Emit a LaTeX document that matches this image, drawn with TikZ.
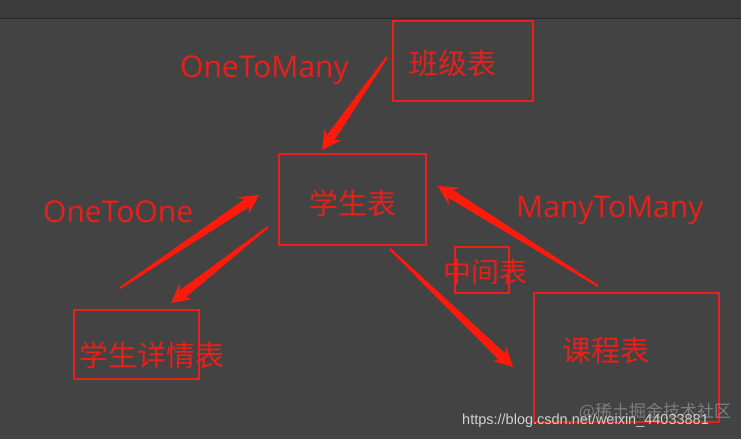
\documentclass[tikz,border=0pt]{standalone}
\usepackage{fontspec}
\setmainfont{Open Sans}
\newfontfamily\cjk{Noto Sans CJK SC}
\newfontfamily\wmfont{Liberation Sans}
\usetikzlibrary{calc}
\definecolor{bg}{HTML}{434343}
\definecolor{topbar}{HTML}{3B3B3B}
\definecolor{pen}{HTML}{E8201A}
\definecolor{ink}{HTML}{FF1A0C}
\tikzset{
	tbl/.style={draw=pen, line width=2pt, inner sep=0pt},
	cn/.style={text=pen, font=\cjk\fontsize{29}{29}\selectfont, inner sep=0pt},
	rel/.style={text=pen, font=\fontsize{30}{30}\selectfont, inner sep=0pt, anchor=base west},
	tapered/.style={to path={
		($(\tikztostart)!1pt!90:(\tikztotarget)$)
		-- ($($(\tikztotarget)!15pt!(\tikztostart)$)!4.5pt!90:(\tikztotarget)$)
		-- ($($(\tikztotarget)!19pt!(\tikztostart)$)!10pt!90:(\tikztotarget)$)
		-- (\tikztotarget)
		-- ($($(\tikztotarget)!19pt!(\tikztostart)$)!10pt!-90:(\tikztotarget)$)
		-- ($($(\tikztotarget)!15pt!(\tikztostart)$)!4.5pt!-90:(\tikztotarget)$)
		-- ($(\tikztostart)!1pt!-90:(\tikztotarget)$) -- cycle}}
}
\begin{document}
\begin{tikzpicture}[x=1pt, y=-1pt]
	\useasboundingbox (0,0) rectangle (741,439);
	\fill[bg] (0,0) rectangle (741,439);
	\fill[topbar] (0,0) rectangle (741,18);
	\draw[black!40!bg] (0,18) -- (741,18);
	% tables
	\node[tbl, minimum width=140pt, minimum height=80pt] (cls) at (463,61) {};
	\node[tbl, minimum width=147pt, minimum height=91pt] (stu) at (352.5,199.5) {};
	\node[tbl, minimum width=185pt, minimum height=129pt] (course) at (626.5,357.5) {};
	\node[tbl, minimum width=125pt, minimum height=69pt] (detail) at (136.5,344.5) {};
	\node[tbl, minimum width=54pt, minimum height=46pt] (mid) at (482,270) {};
	\node[cn] (clsT) at (453,63) {班级表};
	\node[cn] (stuT) at (353,203) {学生表};
	\node[cn] (courseT) at (606,350) {课程表};
	\node[cn] (detailT) at (152,355) {学生详情表};
	\node[cn, font=\cjk\fontsize{28}{28}\selectfont] (midT) at (485,272) {中间表};
	% relations
	\node[rel] (o2m) at (180,77) {OneToMany};
	\node[rel] (o2o) at (43,222) {OneToOne};
	\node[rel] (m2m) at (516,217) {ManyToMany};
	% arrows
	\coordinate (t1) at (387,57);
	\coordinate (h1) at (322,150);
	\coordinate (t2) at (120,288);
	\coordinate (h2) at (259,195);
	\coordinate (t3) at (268,227);
	\coordinate (h3) at (171,303);
	\coordinate (t4) at (390,249);
	\coordinate (h4) at (513,367);
	\coordinate (t5) at (598,286);
	\coordinate (h5) at (438,186);
	\fill[ink] (t1) to[tapered] (h1);
	\fill[ink] (t2) to[tapered] (h2);
	\fill[ink] (t3) to[tapered] (h3);
	\fill[ink] (t4) to[tapered] (h4);
	\fill[ink] (t5) to[tapered] (h5);
	% watermark
	\node[text=gray!70, font=\cjk\fontsize{17}{17}\selectfont, inner sep=0pt, opacity=0.6] (wm) at (655,412) {@稀土掘金技术社区};
	\node[text=white!82!black, font=\wmfont\fontsize{14.5}{14.5}\selectfont, inner sep=0pt, anchor=base west] (url) at (462,424) {https://blog.csdn.net/weixin\_44033881};
\end{tikzpicture}
\end{document}
